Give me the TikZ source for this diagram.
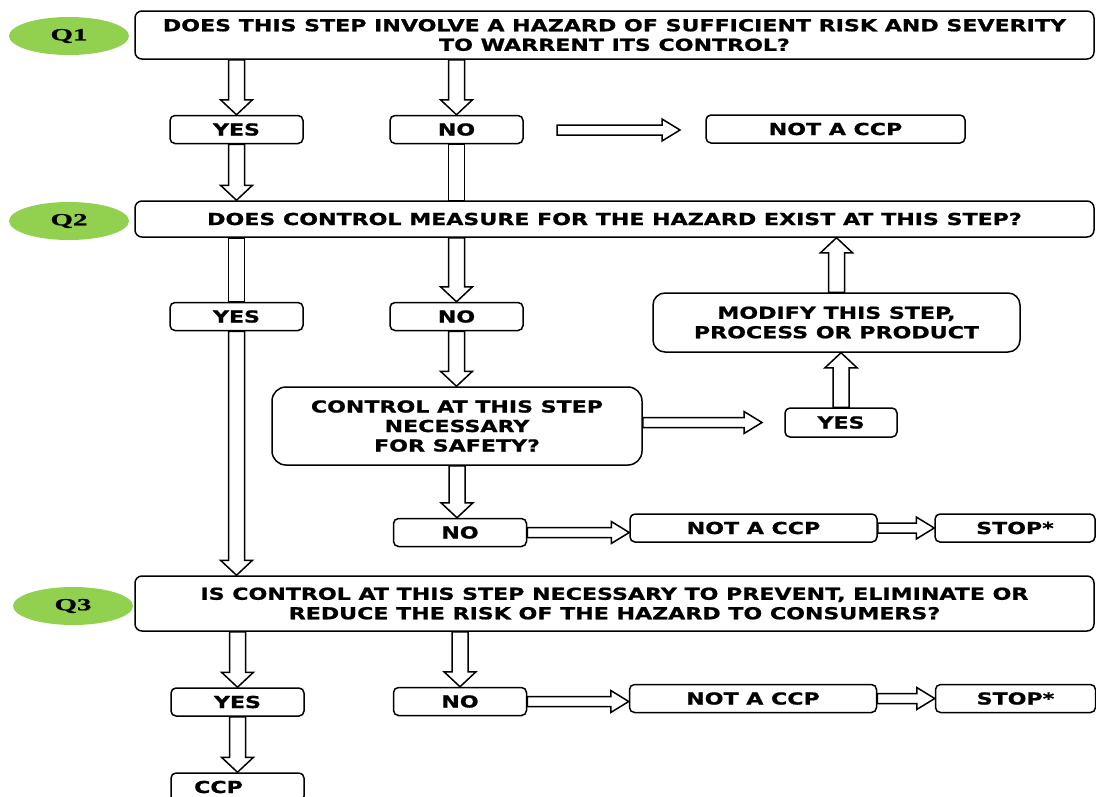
\documentclass[tikz,border=0pt]{standalone}
\usepackage{fontspec}
\setmainfont{DejaVu Sans}[FakeStretch=1.34, BoldFeatures={FakeBold=0.9}]
\newfontfamily\tagfont{Liberation Serif}[FakeStretch=1.7, BoldFeatures={FakeBold=1}]
\usetikzlibrary{calc,shapes.geometric}

\definecolor{tagGreen}{HTML}{92D050}

\tikzset{
  hollow/.style n args={3}{draw, line width=1.5pt, fill=white, line join=miter,
    to path={($(\tikztostart)!#1!90:(\tikztotarget)$)
      -- ($(\tikztotarget)!#3!(\tikztostart)!#1!-90:(\tikztostart)$)
      -- ($(\tikztotarget)!#3!(\tikztostart)!#2!-90:(\tikztostart)$)
      -- (\tikztotarget)
      -- ($(\tikztotarget)!#3!(\tikztostart)!#2!90:(\tikztostart)$)
      -- ($(\tikztotarget)!#3!(\tikztostart)!#1!90:(\tikztostart)$)
      -- ($(\tikztostart)!#1!-90:(\tikztotarget)$) -- cycle}},
  vflow/.style={hollow={8pt}{16pt}{15pt}},
  hflow/.style={hollow={5pt}{11pt}{18pt}},
  pipe/.style={draw, line width=1.5pt, fill=white,
    to path={($(\tikztostart)!8pt!90:(\tikztotarget)$)
      -- ($(\tikztotarget)!8pt!-90:(\tikztostart)$)
      -- ($(\tikztotarget)!8pt!90:(\tikztostart)$)
      -- ($(\tikztostart)!8pt!-90:(\tikztotarget)$) -- cycle}},
}

\begin{document}
\begin{tikzpicture}[x=1pt, y=-1pt, font=\fontsize{16.5}{19.5}\selectfont\bfseries]

      \useasboundingbox (0,0) rectangle (1096,796);

      \begin{scope}[every node/.style={ellipse, fill=tagGreen, minimum width=120pt, minimum height=38pt,
          font=\tagfont\fontsize{17}{19}\selectfont\bfseries}]
        \node (tag1) at (69,36)  {Q1};
        \node (tag2) at (69,221) {Q2};
        \node (tag3) at (73,606) {Q3};
      \end{scope}

      \begin{scope}[every node/.style={draw, line width=1.5pt, rounded corners=7pt, minimum width=959pt,
          align=center, inner sep=0pt}]
        \node[minimum height=48pt] (q1) at (614.5,35)
          {DOES THIS STEP INVOLVE A HAZARD OF SUFFICIENT RISK AND SEVERITY\\TO WARRENT ITS CONTROL?};
        \node[minimum height=36pt] (q2) at (614.5,219)
          {DOES CONTROL MEASURE FOR THE HAZARD EXIST AT THIS STEP?};
        \node[minimum height=55pt] (q3) at (614.5,603.5)
          {IS CONTROL AT THIS STEP NECESSARY TO PREVENT, ELIMINATE OR\\REDUCE THE RISK OF THE HAZARD TO CONSUMERS?};
      \end{scope}

      \begin{scope}[every node/.style={draw, line width=1.5pt, rounded corners=5pt, minimum height=28pt,
          minimum width=133pt, align=center, inner sep=0pt}]
        \node (yes1) at (236.5,129.5) {YES};
        \node (no1)  at (456.5,129.5) {NO};
        \node[minimum width=259pt] (notccp1) at (835.5,129) {NOT A CCP};
        \node (yes2) at (236.5,316.5) {YES};
        \node (no2)  at (456.5,316.5) {NO};
        \node[minimum width=367pt, minimum height=59pt, rounded corners=12pt] (modify) at (836.5,322.5)
          {MODIFY THIS STEP,\\PROCESS OR PRODUCT};
        \node[minimum width=370pt, minimum height=78pt, rounded corners=14pt] (control) at (457,426)
          {CONTROL AT THIS STEP\\NECESSARY\\FOR SAFETY?};
        \node[minimum width=112pt, minimum height=29pt] (yes3) at (841,422.5) {YES};
        \node (no4) at (460,532.5) {NO};
        \node[minimum width=247pt] (notccp4) at (753.5,528) {NOT A CCP};
        \node[minimum width=160pt] (stop4) at (1015,528) {STOP*};
        \node (yes5) at (237.5,702) {YES};
        \node (no5)  at (460,701.5) {NO};
        \node[minimum width=247pt] (notccp5) at (753,698.5) {NOT A CCP};
        \node[minimum width=160pt] (stop5) at (1015.5,698.5) {STOP*};
        \node (ccp) at (237.5,787) {CCP\hspace*{38pt}};
      \end{scope}

      \coordinate (r1s) at (557,130);
      \coordinate (r1e) at (680,130);
      \coordinate (r3e) at (762,422.5);

      \draw[vflow] (q1.south -| yes1.north) to (yes1.north);
      \draw[vflow] (q1.south -| no1.north) to (no1.north);
      \draw[hflow] (r1s) to (r1e);
      \draw[vflow] (yes1.south) to (q2.north -| yes1.south);
      \draw[pipe]  (no1.south) to (q2.north -| no1.south);
      \draw[pipe]  (q2.south -| yes2.north) to (yes2.north);
      \draw[vflow] (yes2.south) to (q3.north -| yes2.south);
      \draw[vflow] (q2.south -| no2.north) to (no2.north);
      \draw[vflow] (no2.south) to (control.north -| no2.south);
      \draw[hflow] (control.east |- yes3.west) to (r3e);
      \draw[vflow] (yes3.north) to (yes3.north |- modify.south);
      \draw[vflow] (modify.north) to (modify.north |- q2.south);
      \draw[vflow] (control.south) to (control.south |- no4.north);
      \draw[hflow] (no4.east) to (notccp4.west |- no4.east);
      \draw[hflow] (notccp4.east) to (stop4.west);
      \draw[vflow] (q3.south -| yes5.north) to (yes5.north);
      \draw[vflow] (q3.south -| no5.north) to (no5.north);
      \draw[hflow] (no5.east) to (notccp5.west |- no5.east);
      \draw[hflow] (notccp5.east) to (stop5.west);
      \draw[vflow] (yes5.south) to (ccp.north);

\end{tikzpicture}
\end{document}
